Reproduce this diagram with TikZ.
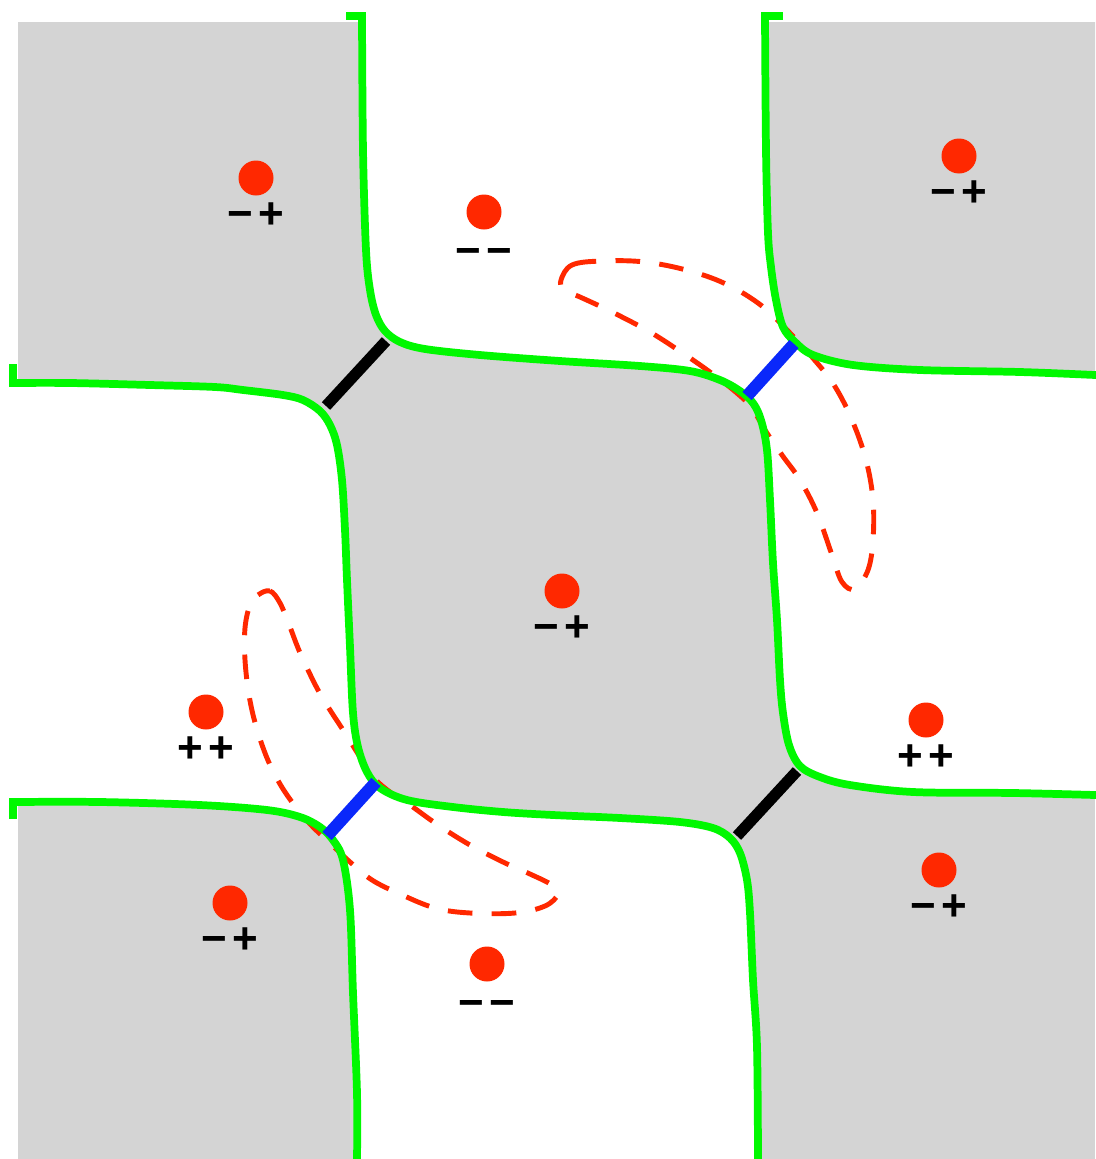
\documentclass[tikz,border=0pt]{standalone}
\usepackage{fontspec}
\setsansfont{Liberation Sans}
\usetikzlibrary{positioning}

\definecolor{cellgrey}{RGB}{212,212,212}
\definecolor{wallgreen}{RGB}{0,248,0}
\definecolor{dotred}{RGB}{255,40,0}
\definecolor{neckblue}{RGB}{10,40,250}

% domain walls (pixel coordinates)
\newcommand\wallA{plot[smooth, tension=0.55] coordinates {(362,16) (363,150) (366,250) (370,290) (376,315) (385,331) (400,342) (425,349) (480,355) (560,361) (640,366) (690,371) (720,380) (740,391) (753,403) (761,420) (767,450) (770,500) (773,563) (777,620) (780,680) (783,713) (789,745) (800,766) (820,777) (850,785) (913,792) (1013,793) (1095,795)}}
\newcommand\wallB{plot[smooth, tension=0.55] coordinates {(765,16) (766,150) (768,233) (771,267) (776,300) (783,327) (795,342) (813,355) (853,365) (920,370) (1020,372) (1095,375)}}
\newcommand\wallC{plot[smooth, tension=0.55] coordinates {(13,383) (70,383) (150,385) (215,387) (243,390) (283,395) (303,400) (320,411) (330,425) (337,445) (342,480) (345,530) (347,580) (350,647) (353,713) (358,747) (367,772) (380,788) (407,800) (453,807) (503,812) (553,815) (620,818) (680,822) (713,828) (730,838) (740,853) (747,880) (750,913) (753,980) (757,1047) (758,1159)}}
\newcommand\wallD{plot[smooth, tension=0.55] coordinates {(13,802) (100,802) (200,805) (267,810) (300,817) (320,827) (333,840) (343,860) (350,910) (353,993) (357,1093) (357,1159)}}

\begin{document}
\begin{tikzpicture}[x=0.2mm, y=-0.2mm,
    wall/.style={draw=wallgreen, line width=4.4pt, line cap=rect},
    neck/.style={line width=6.4pt},
    loop/.style={draw=dotred, line width=2.8pt, dash pattern=on 14pt off 11pt},
    dot/.style={circle, fill=dotred, inner sep=0pt, minimum size=7mm},
    sign/.style={font=\sffamily\bfseries\fontsize{25}{25}\selectfont, inner sep=0pt}]

    \useasboundingbox (0,0) rectangle (1095,1159);

    % Regions
    \begin{scope}
      \clip (18,22) rectangle (1095,1159);
      \fill[cellgrey] (18,22) rectangle (1095,1159);
      \fill[white] \wallA -- (1110,795) -- (1110,-10) -- (362,-10) -- cycle;
      \fill[cellgrey] \wallB -- (1110,375) -- (1110,-10) -- (765,-10) -- cycle;
      \fill[white] \wallC -- (758,1170) -- (-10,1170) -- (-10,383) -- cycle;
      \fill[cellgrey] \wallD -- (357,1170) -- (-10,1170) -- (-10,802) -- cycle;
    \end{scope}

    % Loops
    \draw[loop] plot[smooth cycle, tension=0.6] coordinates {(561,280) (572,265) (602,261) (645,262) (690,271) (728,285) (762,306) (790,333) (812,357) (834,385) (852,420) (866,460) (873,500) (873,540) (868,570) (855,589) (842,582) (832,555) (817,513) (800,480) (782,455) (765,430) (752,408) (738,394) (718,378) (690,358) (650,332) (610,311) (580,297) (564,290)};
    \draw[loop] plot[smooth cycle, tension=0.6] coordinates {(258,595) (270,591) (280,603) (290,627) (298,648) (308,670) (318,690) (330,710) (345,733) (360,757) (373,777) (390,792) (410,805) (438,825) (470,845) (503,862) (530,874) (552,885) (558,894) (545,906) (515,913) (470,913) (435,908) (400,894) (372,880) (350,862) (330,843) (312,826) (295,806) (280,784) (267,758) (256,726) (249,695) (245,660) (245,628) (250,605)};

    % Walls
    \draw[wall] \wallA;
    \draw[wall] \wallB;
    \draw[wall] \wallC;
    \draw[wall] \wallD;
    \draw[wall] (350,16) -- (362,16);
    \draw[wall] (765,16) -- (779,16);
    \draw[wall] (13,368) -- (13,383);
    \draw[wall] (13,802) -- (13,815);

    % Necks
    \coordinate (nkTLa) at (386,341);
    \coordinate (nkTLb) at (326,406);
    \coordinate (nkTRa) at (794,344);
    \coordinate (nkTRb) at (747,396);
    \coordinate (nkBLa) at (376,782);
    \coordinate (nkBLb) at (327,836);
    \coordinate (nkBRa) at (797,771);
    \coordinate (nkBRb) at (737,836);
    \draw[neck, black] (nkTLa) -- (nkTLb);
    \draw[neck, black] (nkBRa) -- (nkBRb);
    \draw[neck, neckblue, line width=7pt] (nkTRa) -- (nkTRb);
    \draw[neck, neckblue, line width=7pt] (nkBLa) -- (nkBLb);

    % Nodes
    \node[dot] (dotTL) at (256,178) {};
    \node[dot] (dotT)  at (484,212) {};
    \node[dot] (dotTR) at (959,156) {};
    \node[dot] (dotC)  at (562,591) {};
    \node[dot] (dotL)  at (206,712) {};
    \node[dot] (dotR)  at (926,720) {};
    \node[dot] (dotBL) at (230,903) {};
    \node[dot] (dotBR) at (939,870) {};
    \node[dot] (dotB)  at (487,964) {};

    % Signs
    \node[sign, below=1.3mm of dotTL] (sgTL) {−\kern3pt+};
    \node[sign, below=3.6mm of dotT]  (sgT)  {−\kern3pt−};
    \node[sign, below=1.3mm of dotTR] (sgTR) {−\kern3pt+};
    \node[sign, below=1.3mm of dotC]  (sgC)  {−\kern3pt+};
    \node[sign, below=1.3mm of dotL]  (sgL)  {+\kern3pt+};
    \node[sign, below=1.3mm of dotR]  (sgR)  {+\kern3pt+};
    \node[sign, below=1.3mm of dotBL] (sgBL) {−\kern3pt+};
    \node[sign, below=1.3mm of dotBR] (sgBR) {−\kern3pt+};
    \node[sign, below=3.6mm of dotB]  (sgB)  {−\kern3pt−};
\end{tikzpicture}
\end{document}
